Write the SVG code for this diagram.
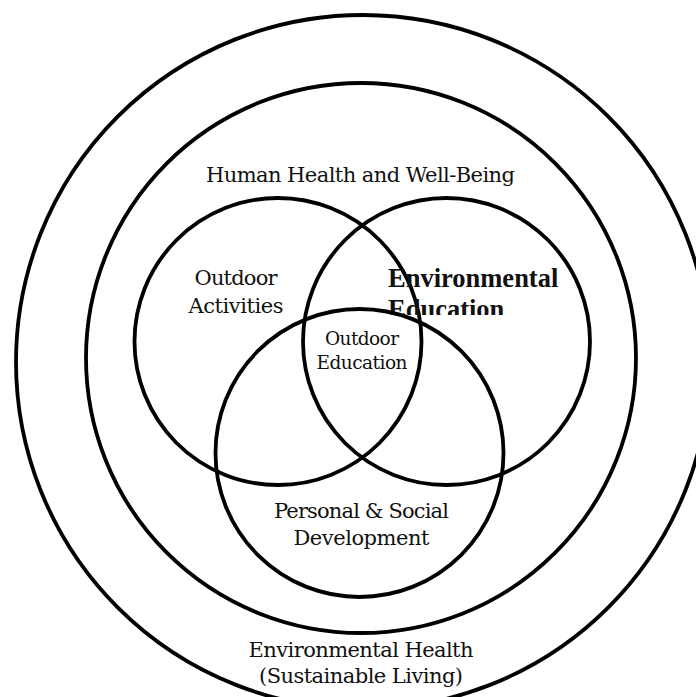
<svg xmlns="http://www.w3.org/2000/svg" width="696" height="697" viewBox="0 0 696 697">
<style>
.c{fill:none;stroke:#000;stroke-width:3.8}
.t{font-family:"DejaVu Serif","Liberation Serif",serif;font-size:21px;fill:#111;text-anchor:middle}
.s{font-size:18.5px}
.b{font-family:"Liberation Serif","Times New Roman",serif;font-weight:bold;font-size:26.5px;fill:#111}
</style>
<defs>
<clipPath id="clipEE"><rect x="380" y="260" width="200" height="55"/></clipPath>
<clipPath id="clipEH"><rect x="200" y="630" width="320" height="57"/></clipPath>
</defs>
<g id="environmental-health">
<circle class="c" cx="363" cy="362" r="347"/>
<text class="t" clip-path="url(#clipEH)"><tspan x="361" y="657" textLength="225">Environmental Health</tspan><tspan x="361" y="683" textLength="204">(Sustainable Living)</tspan></text>
</g>
<g id="human-health">
<circle class="c" cx="361" cy="358" r="275"/>
<text class="t" x="360.5" y="182" textLength="309">Human Health and Well-Being</text>
</g>
<g id="outdoor-activities">
<circle class="c" cx="278" cy="341.5" r="143.5"/>
<text class="t"><tspan x="236" y="285" textLength="83">Outdoor</tspan><tspan x="236" y="313" textLength="95">Activities</tspan></text>
</g>
<g id="environmental-education">
<circle class="c" cx="446.5" cy="341.5" r="143.5"/>
<text class="b" clip-path="url(#clipEE)"><tspan x="388" y="287">Environmental</tspan><tspan x="388" y="318">Education</tspan></text>
</g>
<g id="personal-social">
<circle class="c" cx="359.5" cy="453" r="144"/>
<text class="t"><tspan x="361.5" y="518" textLength="175">Personal &amp; Social</tspan><tspan x="361.5" y="545" textLength="136">Development</tspan></text>
</g>
<g id="outdoor-education">
<text class="t s"><tspan x="362" y="345" textLength="74">Outdoor</tspan><tspan x="362" y="369" textLength="91">Education</tspan></text>
</g>
<g id="connectors"></g>
</svg>
